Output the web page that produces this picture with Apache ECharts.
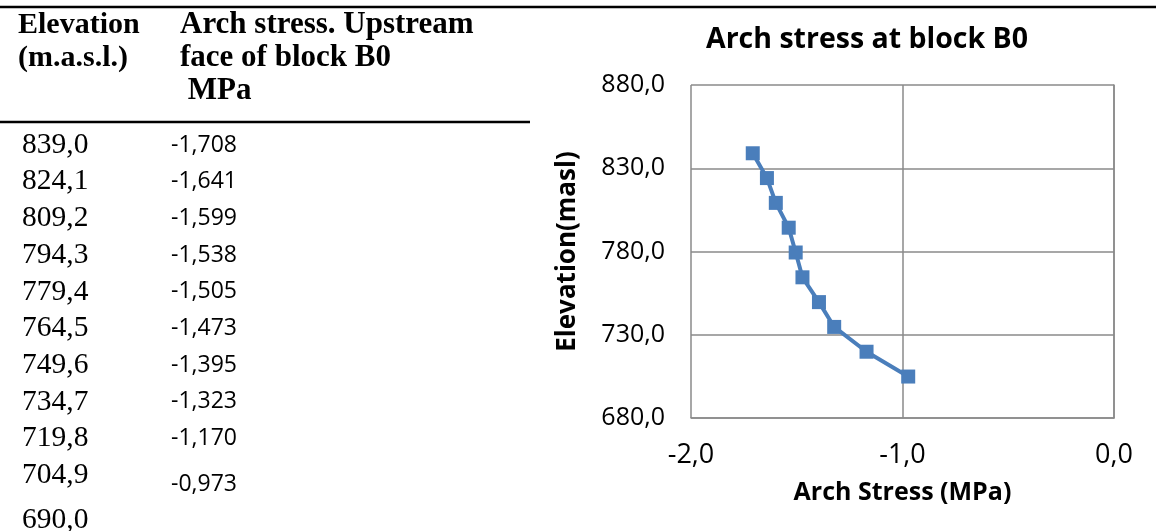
<!DOCTYPE html>
<html>
<head>
<meta charset="utf-8">
<script src="https://cdn.jsdelivr.net/npm/echarts@6/dist/echarts.min.js"></script>
<style>
html,body{margin:0;padding:0;background:#fff;}
#c{width:1156px;height:531px;}
</style>
</head>
<body>
<div id="c"></div>
<script>
// ---- data ----
const elevations = [839.0, 824.1, 809.2, 794.3, 779.4, 764.5, 749.6, 734.7, 719.8, 704.9];
const stresses = [-1.708, -1.641, -1.599, -1.538, -1.505, -1.473, -1.395, -1.323, -1.170, -0.973];
const tableElevLabels = ['839,0', '824,1', '809,2', '794,3', '779,4', '764,5', '749,6', '734,7', '719,8', '704,9', '690,0'];
const tableStressLabels = ['-1,708', '-1,641', '-1,599', '-1,538', '-1,505', '-1,473', '-1,395', '-1,323', '-1,170', '-0,973'];
const headerCol1 = ['Elevation', '(m.a.s.l.)'];
const headerCol2 = ['Arch stress. Upstream', 'face of block B0', ' MPa'];
const chartTitle = 'Arch stress at block B0';
const xAxisName = 'Arch Stress (MPa)';
const yAxisName = 'Elevation(masl)';
const xRange = {min: -2, max: 0, interval: 1};
const yRange = {min: 680, max: 880, interval: 50};

// ---- layout ----
const serif = '"Liberation Serif", "Times New Roman", serif';
const sans = '"Open Sans", Lato, sans-serif';
const fmt = v => v.toFixed(1).replace('.', ',');

const graphics = [];
graphics.push({type:'line', shape:{x1:0, y1:7, x2:1156, y2:7}, style:{stroke:'#000', lineWidth:2.5}});
graphics.push({type:'line', shape:{x1:0, y1:122, x2:530, y2:122}, style:{stroke:'#000', lineWidth:2.5}});
headerCol1.forEach((t, i) => graphics.push({type:'text', x:18, y:25 + i*33,
  style:{text:t, font:'bold 30px ' + serif, fill:'#000', verticalAlign:'middle'}}));
headerCol2.forEach((t, i) => graphics.push({type:'text', x:180, y:25 + i*33,
  style:{text:t, font:'bold 31px ' + serif, fill:'#000', verticalAlign:'middle'}}));
tableElevLabels.forEach((t, i) => graphics.push({type:'text', x:22, y:145 + i*36.7 + (i === 10 ? 8 : 0),
  style:{text:t, font:'29.5px ' + serif, fill:'#000', verticalAlign:'middle'}}));
tableStressLabels.forEach((t, i) => graphics.push({type:'text', x:171, y:145 + i*36.7 + (i === 9 ? 9 : 0),
  style:{text:t, font:'23px ' + sans, fill:'#000', verticalAlign:'middle'}}));

const chart = echarts.init(document.getElementById('c'), null, {renderer:'canvas'});
chart.setOption({
  animation: false,
  title: {
    text: chartTitle, left: 862, top: 20, textAlign: 'center',
    textStyle: {fontFamily: sans, fontWeight: 'bold', fontSize: 28.5, color: '#000'}
  },
  grid: {left: 691, right: 42, top: 85, bottom: 113, containLabel: false},
  xAxis: {
    type: 'value', min: xRange.min, max: xRange.max, interval: xRange.interval,
    name: xAxisName, nameLocation: 'middle', nameGap: 62,
    nameTextStyle: {fontFamily: sans, fontWeight: 'bold', fontSize: 25, color: '#000'},
    axisLine: {show: true, lineStyle: {color: '#8a8a8a', width: 1.5}},
    axisTick: {show: false},
    axisLabel: {formatter: fmt, fontFamily: sans, fontSize: 27, color: '#000', margin: 24},
    splitLine: {show: true, lineStyle: {color: '#8a8a8a', width: 1.5}}
  },
  yAxis: {
    type: 'value', min: yRange.min, max: yRange.max, interval: yRange.interval,
    name: yAxisName, nameLocation: 'middle', nameGap: 110, nameRotate: 90,
    nameTextStyle: {fontFamily: sans, fontWeight: 'bold', fontSize: 26, color: '#000'},
    axisLine: {show: true, lineStyle: {color: '#8a8a8a', width: 1.5}},
    axisTick: {show: false},
    axisLabel: {formatter: fmt, fontFamily: sans, fontSize: 25, color: '#000', margin: 26},
    splitLine: {show: true, lineStyle: {color: '#8a8a8a', width: 1.5}}
  },
  graphic: graphics,
  series: [{
    type: 'line',
    data: stresses.map((s, i) => [s, elevations[i]]),
    symbol: 'rect', symbolSize: 14,
    lineStyle: {color: '#4a7ebb', width: 4},
    itemStyle: {color: '#4a7ebb'},
    z: 3
  }]
});
</script>
</body>
</html>
